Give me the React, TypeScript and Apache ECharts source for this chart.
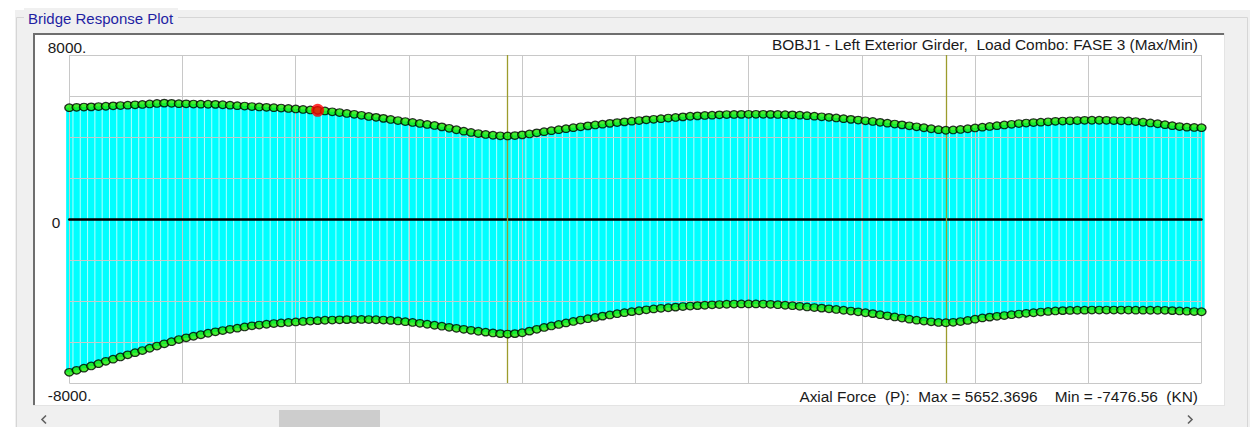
import React, { useEffect, useRef } from "react";
import * as echarts from "echarts";

// Max envelope (kN) per station along the girder
const maxValues = [
  5431, 5446, 5461, 5470, 5485, 5500, 5519, 5534, 5553, 5568,
  5588, 5612, 5636, 5652.3696, 5641, 5627, 5617, 5607, 5602, 5597,
  5592, 5573, 5553, 5529, 5510, 5485, 5466, 5446, 5431, 5412,
  5392, 5368, 5344, 5319, 5300, 5270, 5231, 5192, 5148, 5109,
  5060, 5002, 4958, 4909, 4856, 4802, 4753, 4709, 4660, 4612,
  4563, 4494, 4426, 4353, 4285, 4221, 4168, 4124, 4085, 4060,
  4050, 4070, 4104, 4148, 4202, 4260, 4309, 4358, 4407, 4455,
  4499, 4543, 4587, 4626, 4665, 4704, 4738, 4773, 4802, 4836,
  4865, 4895, 4924, 4953, 4982, 5012, 5031, 5051, 5065, 5080,
  5095, 5100, 5104, 5109, 5109, 5109, 5104, 5100, 5090, 5080,
  5065, 5041, 5017, 4987, 4958, 4929, 4895, 4860, 4826, 4792,
  4758, 4714, 4675, 4631, 4592, 4548, 4499, 4451, 4402, 4358,
  4329, 4343, 4368, 4402, 4441, 4480, 4514, 4553, 4587, 4621,
  4656, 4680, 4704, 4724, 4743, 4763, 4778, 4792, 4802, 4812,
  4817, 4817, 4812, 4802, 4792, 4782, 4753, 4719, 4685, 4646,
  4602, 4553, 4509, 4480, 4465, 4455,
];

// Min envelope (kN) per station along the girder
const minValues = [
  -7476.56, -7383, -7276, -7169, -7056, -6944, -6837, -6730, -6627, -6520,
  -6417, -6305, -6198, -6090, -5983, -5880, -5797, -5719, -5646, -5573,
  -5505, -5441, -5383, -5324, -5266, -5212, -5173, -5134, -5100, -5070,
  -5046, -5022, -4997, -4978, -4958, -4939, -4929, -4919, -4909, -4904,
  -4900, -4904, -4914, -4929, -4948, -4973, -5007, -5046, -5090, -5134,
  -5183, -5231, -5285, -5334, -5383, -5431, -5475, -5519, -5558, -5592,
  -5612, -5592, -5549, -5470, -5383, -5290, -5217, -5144, -5070, -4997,
  -4929, -4865, -4802, -4738, -4680, -4621, -4568, -4519, -4475, -4431,
  -4387, -4358, -4329, -4299, -4270, -4246, -4226, -4207, -4187, -4172,
  -4158, -4148, -4143, -4143, -4143, -4148, -4163, -4182, -4207, -4231,
  -4260, -4290, -4319, -4348, -4382, -4412, -4451, -4490, -4529, -4573,
  -4616, -4670, -4724, -4778, -4831, -4885, -4934, -4978, -5017, -5046,
  -5061, -5041, -5002, -4948, -4885, -4826, -4787, -4748, -4709, -4670,
  -4636, -4602, -4573, -4538, -4509, -4485, -4470, -4460, -4451, -4446,
  -4441, -4441, -4441, -4441, -4441, -4441, -4446, -4446, -4451, -4451,
  -4455, -4470, -4485, -4499, -4514, -4524,
];

// Support stations (olive lines) and the highlighted station
const supportStations = [60, 120];
const highlightStation = 34;

// Axis settings / tick labels
const xMin = 0;
const xMax = 155;
const xInterval = 15.5;
const yMin = -8000;
const yMax = 8000;
const yInterval = 2000;
const yLabelValues = [8000, 0, -8000];
const yLabelTexts = ["8000.", "0", "-8000."];
const yLabelStyles = ["top", "zero", "bot"];

// Texts
const groupTitle = "Bridge Response Plot";
const plotTitle = "BOBJ1 - Left Exterior Girder,  Load Combo: FASE 3 (Max/Min)";
const footerText = "Axial Force  (P):  Max = 5652.3696    Min = -7476.56  (KN)";

const FONT = "'Liberation Sans', Arial, sans-serif";
const FS = 15.4;

export default function App() {
  const ref = useRef<HTMLDivElement>(null);

  useEffect(() => {
    if (!ref.current) return;
    const chart = echarts.init(ref.current, null, { renderer: "svg" });

    const maxPts = maxValues.map((v, i) => [i, v]);
    const minPts = minValues.map((v, i) => [i, v]);

    const dotStyle = { color: "#16e800", borderColor: "#000000", borderWidth: 1.3 };

    const option: any = {
      animation: false,
      backgroundColor: "#ffffff",
      textStyle: { fontFamily: FONT },
      grid: { left: 69.3, right: 55.5, top: 55, bottom: 44, containLabel: false },
      xAxis: {
        type: "value",
        min: xMin,
        max: xMax,
        interval: xInterval,
        z: 3,
        axisLine: { show: true, onZero: true, lineStyle: { color: "#000000", width: 2.5 } },
        axisTick: { show: false },
        axisLabel: { show: false },
        splitLine: { show: true, lineStyle: { color: "#c8c8c8", width: 1 } },
      },
      yAxis: {
        type: "value",
        min: yMin,
        max: yMax,
        interval: yInterval,
        z: 3,
        axisLine: { show: false },
        axisTick: { show: false },
        splitLine: { show: true, lineStyle: { color: "#c8c8c8", width: 1 } },
        axisLabel: {
          show: true,
          align: "left",
          margin: 21.5,
          color: "#1a1a1a",
          fontSize: FS,
          fontFamily: FONT,
          formatter: (v: number) => {
            const k = yLabelValues.indexOf(v);
            if (k < 0) return "";
            return "{" + yLabelStyles[k] + "|" + yLabelTexts[k] + "}";
          },
          rich: {
            top: { padding: [0, 0, 16, 0], fontSize: FS, color: "#1a1a1a", fontFamily: FONT },
            zero: { padding: [6, 0, 0, 4], fontSize: FS, color: "#1a1a1a", fontFamily: FONT },
            bot: { padding: [25, 0, 0, 0], fontSize: FS, color: "#1a1a1a", fontFamily: FONT },
          },
        },
      },
      series: [
        {
          type: "line",
          data: maxPts,
          symbol: "none",
          silent: true,
          lineStyle: { width: 0, opacity: 0 },
          areaStyle: { color: "#b0ffff", opacity: 1 },
          z: 1,
        },
        {
          type: "line",
          data: minPts,
          symbol: "none",
          silent: true,
          lineStyle: { width: 0, opacity: 0 },
          areaStyle: { color: "#b0ffff", opacity: 1 },
          z: 1,
        },
        {
          type: "bar",
          data: maxPts,
          stack: "band",
          barWidth: 6.3,
          itemStyle: { color: "#00ffff" },
          z: 2,
        },
        {
          type: "bar",
          data: minPts,
          stack: "band",
          barWidth: 6.3,
          itemStyle: { color: "#00ffff" },
          z: 2,
        },
        {
          type: "line",
          data: [],
          z: 4,
          markLine: {
            silent: true,
            symbol: ["none", "none"],
            label: { show: false },
            lineStyle: { color: "#9c9c2c", width: 1.3, type: "solid" },
            data: supportStations.map((s) => ({ xAxis: s })),
          },
        },
        {
          type: "scatter",
          data: maxPts,
          symbol: "circle",
          symbolSize: [9, 7.5],
          itemStyle: dotStyle,
          z: 5,
        },
        {
          type: "scatter",
          data: minPts,
          symbol: "circle",
          symbolSize: [9, 7.5],
          itemStyle: dotStyle,
          z: 5,
        },
        {
          type: "scatter",
          data: [[highlightStation, maxValues[highlightStation]]],
          symbol: "circle",
          symbolSize: 13,
          itemStyle: { color: "#ff0000" },
          z: 6,
        },
      ],
      graphic: {
        elements: [
          { type: "rect", z: -10, shape: { x: 15, y: 10, width: 1235, height: 420 }, style: { fill: "#f0f0f0" } },
          {
            type: "rect",
            z: -9,
            shape: { x: 16.5, y: 17.5, width: 1231, height: 430 },
            style: { fill: "none", stroke: "#d6d6d6", lineWidth: 1 },
          },
          { type: "rect", z: -8, shape: { x: 24, y: 8, width: 154, height: 20 }, style: { fill: "#f0f0f0" } },
          {
            type: "text",
            z: 10,
            x: 28,
            y: 18,
            style: { text: groupTitle, fill: "#1f1fa3", fontSize: 15, fontFamily: FONT, verticalAlign: "middle", align: "left" },
          },
          { type: "rect", z: -7, shape: { x: 33, y: 33, width: 1191, height: 372 }, style: { fill: "#ffffff" } },
          { type: "line", z: -6, shape: { x1: 33, y1: 34, x2: 1224, y2: 34 }, style: { stroke: "#6e6e6e", lineWidth: 2 } },
          { type: "line", z: -6, shape: { x1: 34, y1: 33, x2: 34, y2: 405 }, style: { stroke: "#6e6e6e", lineWidth: 2 } },
          { type: "line", z: -6, shape: { x1: 33, y1: 405.5, x2: 1224, y2: 405.5 }, style: { stroke: "#e4e4e4", lineWidth: 1 } },
          { type: "line", z: -6, shape: { x1: 1224.5, y1: 33, x2: 1224.5, y2: 406 }, style: { stroke: "#e4e4e4", lineWidth: 1 } },
          { type: "rect", z: -6, shape: { x: 279, y: 410, width: 101, height: 17 }, style: { fill: "#cdcdcd" } },
          {
            type: "polyline",
            z: -5,
            shape: { points: [[46, 415.5], [42, 419.5], [46, 423.5]] },
            style: { stroke: "#606060", lineWidth: 1.6, fill: "none" },
          },
          {
            type: "polyline",
            z: -5,
            shape: { points: [[1188, 415.5], [1192, 419.5], [1188, 423.5]] },
            style: { stroke: "#606060", lineWidth: 1.6, fill: "none" },
          },
          {
            type: "text",
            z: 10,
            x: 1198,
            y: 44,
            style: { text: plotTitle, fill: "#1a1a1a", fontSize: FS, fontFamily: FONT, verticalAlign: "middle", align: "right" },
          },
          {
            type: "text",
            z: 10,
            x: 1198,
            y: 396,
            style: { text: footerText, fill: "#1a1a1a", fontSize: FS, fontFamily: FONT, verticalAlign: "middle", align: "right" },
          },
        ],
      },
    };

    chart.setOption(option);
    return () => chart.dispose();
  }, []);

  return (
    <div
      ref={ref}
      style={{ position: "absolute", left: 0, top: 0, width: 1257, height: 427 }}
    />
  );
}
